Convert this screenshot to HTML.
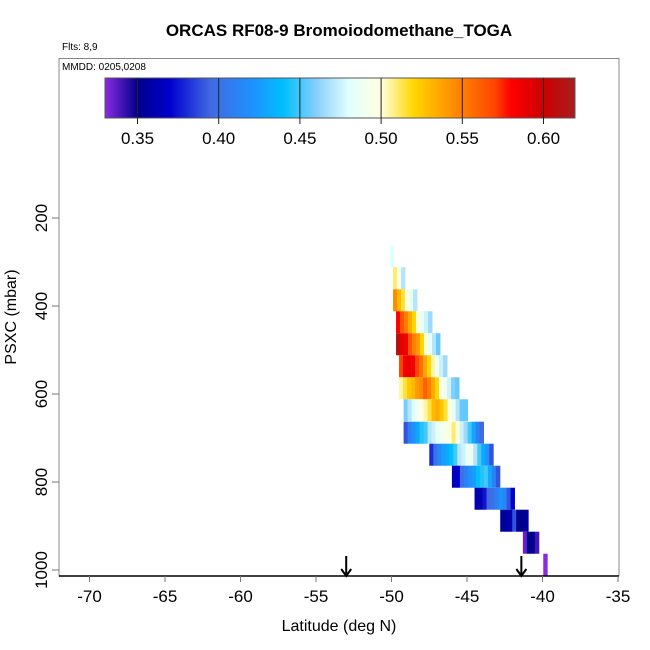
<!DOCTYPE html>
<html><head><meta charset="utf-8"><style>
html,body{margin:0;padding:0;background:#fff}
svg{display:block;font-family:"Liberation Sans",Arial,sans-serif}
</style></head><body>
<svg id="chart" width="650" height="650" viewBox="0 0 650 650" xmlns="http://www.w3.org/2000/svg">
<rect x="0" y="0" width="650" height="650" fill="#fff"/>
<text x="339" y="36" text-anchor="middle" font-size="17" font-weight="bold">ORCAS RF08-9 Bromoiodomethane_TOGA</text>
<text x="62" y="50" font-size="10">Flts: 8,9</text>
<rect x="59" y="58.5" width="560" height="517.5" fill="none" stroke="#888" stroke-width="1"/>
<text x="62" y="70" font-size="10">MMDD: 0205,0208</text>
<g id="cbar"></g>
<g id="cells"></g>
<g id="axes"></g>
<text x="339" y="631" text-anchor="middle" font-size="16">Latitude (deg N)</text>
<text transform="translate(16,317) rotate(-90)" text-anchor="middle" font-size="16">PSXC (mbar)</text>
</svg>
<script>
// ---- data ----
const xTicks = [-70,-65,-60,-55,-50,-45,-40,-35];
const yTicks = [200,400,600,800,1000];
const cbTicks = [0.35,0.40,0.45,0.50,0.55,0.60];
const rowTopP = [262,312,362,412,462,512,562,612,663,713,763,813,863,913,963];
const rowStartLat = [-50.1,-49.9,-49.9,-49.7,-49.7,-49.5,-49.5,-49.2,-49.2,-47.5,-46.0,-44.5,-42.8,-41.3,-39.95];
const rowValues = [
 [0.48],
 [0.51,0.495,0.47],
 [0.545,0.53,0.515,0.5,0.485,0.47],
 [0.58,0.565,0.55,0.535,0.52,0.5,0.485,0.475,0.465],
 [0.61,0.59,0.585,0.565,0.55,0.54,0.52,0.5,0.485,0.47,0.455],
 [0.57,0.585,0.59,0.585,0.57,0.555,0.535,0.52,0.505,0.49,0.475,0.465],
 [0.505,0.515,0.525,0.53,0.54,0.545,0.56,0.55,0.535,0.52,0.5,0.49,0.475,0.46,0.455],
 [0.458,0.47,0.48,0.49,0.5,0.505,0.515,0.53,0.535,0.525,0.515,0.5,0.485,0.47,0.455,0.455],
 [0.39,0.41,0.42,0.43,0.445,0.45,0.47,0.475,0.485,0.49,0.495,0.5,0.51,0.5,0.475,0.465,0.45,0.43,0.41,0.395],
 [0.38,0.4,0.415,0.425,0.43,0.44,0.45,0.47,0.475,0.485,0.49,0.47,0.45,0.43,0.42,0.39],
 [0.365,0.37,0.4,0.41,0.42,0.425,0.44,0.445,0.45,0.43,0.41,0.39],
 [0.36,0.36,0.375,0.395,0.4,0.41,0.42,0.415,0.39,0.37],
 [0.355,0.355,0.36,0.39,0.35,0.35,0.355],
 [0.335,0.35,0.35,0.34],
 [0.33]
];
const arrowLats = [-53.0,-41.4];
// ---- scales ----
const x = lat => 89.5 + (lat + 70) * 15.1;
const y = p => 130 + p * 0.44;
const cbX = v => 137.5 + (v - 0.35) * 1624;
const cellDeg = 0.265;
const stops = [[0.33,[138,43,226]],[0.35,[0,0,139]],[0.37,[0,0,205]],[0.395,[65,105,225]],[0.42,[30,144,255]],[0.44,[0,191,255]],[0.46,[135,206,250]],[0.48,[224,255,255]],[0.50,[255,255,224]],[0.52,[255,215,0]],[0.545,[255,140,0]],[0.57,[255,69,0]],[0.58,[255,0,0]],[0.60,[205,0,0]],[0.62,[165,30,30]]];
function col(v){
  if(v<=stops[0][0]) return 'rgb('+stops[0][1]+')';
  for(let i=1;i<stops.length;i++){
    if(v<=stops[i][0]){const a=stops[i-1],b=stops[i],t=(v-a[0])/(b[0]-a[0]);
      return 'rgb('+a[1].map((c,k)=>Math.round(c+(b[1][k]-c)*t)).join(',')+')';}
  }
  return 'rgb('+stops[stops.length-1][1]+')';
}
const NS='http://www.w3.org/2000/svg';
function mk(tag,attrs,parent){const e=document.createElementNS(NS,tag);for(const k in attrs)e.setAttribute(k,attrs[k]);parent.appendChild(e);return e;}
// colorbar
const cb=document.getElementById('cbar');
for(let px=105;px<575;px++){
  const r=mk('rect',{x:px,y:78,width:1.2,height:40,fill:col(0.35+(px+0.5-137.5)/1624)},cb);
  
  
}
const cbf=mk('rect',{x:105,y:78,width:470,height:40,fill:'none',stroke:'#555','stroke-width':1},cb);


cbTicks.forEach(v=>{
  const l=mk('line',{x1:cbX(v),x2:cbX(v),y1:78,y2:124,stroke:'#222','stroke-width':1},cb);
  
  
  const t=mk('text',{x:cbX(v),y:144,'text-anchor':'middle','font-size':17},cb);t.textContent=v.toFixed(2);
  
  
});
// cells
const cg=document.getElementById('cells');
rowValues.forEach((vals,ri)=>{
  const top=y(rowTopP[ri]), bot=y(rowTopP[ri]+50);
  vals.forEach((v,i)=>{
    const x0=x(rowStartLat[ri]+i*cellDeg), x1=x(rowStartLat[ri]+(i+1)*cellDeg);
    const r=mk('rect',{x:x0,y:top,width:x1-x0+0.4,height:bot-top,fill:col(v)},cg);
    
    
  });
});
// axes
const ax=document.getElementById('axes');
const xl=mk('line',{x1:59,x2:619,y1:576,y2:576,stroke:'#000','stroke-width':1.5},ax);


xTicks.forEach(v=>{
  const l=mk('line',{x1:x(v),x2:x(v),y1:576,y2:582,stroke:'#777'},ax);
  
  
  const t=mk('text',{x:x(v),y:602,'text-anchor':'middle','font-size':17},ax);t.textContent=v;
  
  
});
yTicks.forEach(v=>{
  const l=mk('line',{x1:52,x2:59,y1:y(v),y2:y(v),stroke:'#777'},ax);
  
  
  const t=mk('text',{transform:'translate(47,'+y(v)+') rotate(-90)','text-anchor':'middle','font-size':17},ax);t.textContent=v;
  
  
});
arrowLats.forEach(v=>{
  const a=mk('path',{d:'M'+x(v)+' 556 V575 M'+(x(v)-5)+' 569 L'+x(v)+' 576 L'+(x(v)+5)+' 569',stroke:'#000','stroke-width':2,fill:'none'},ax);
  
  
});
</script>
</body></html>
